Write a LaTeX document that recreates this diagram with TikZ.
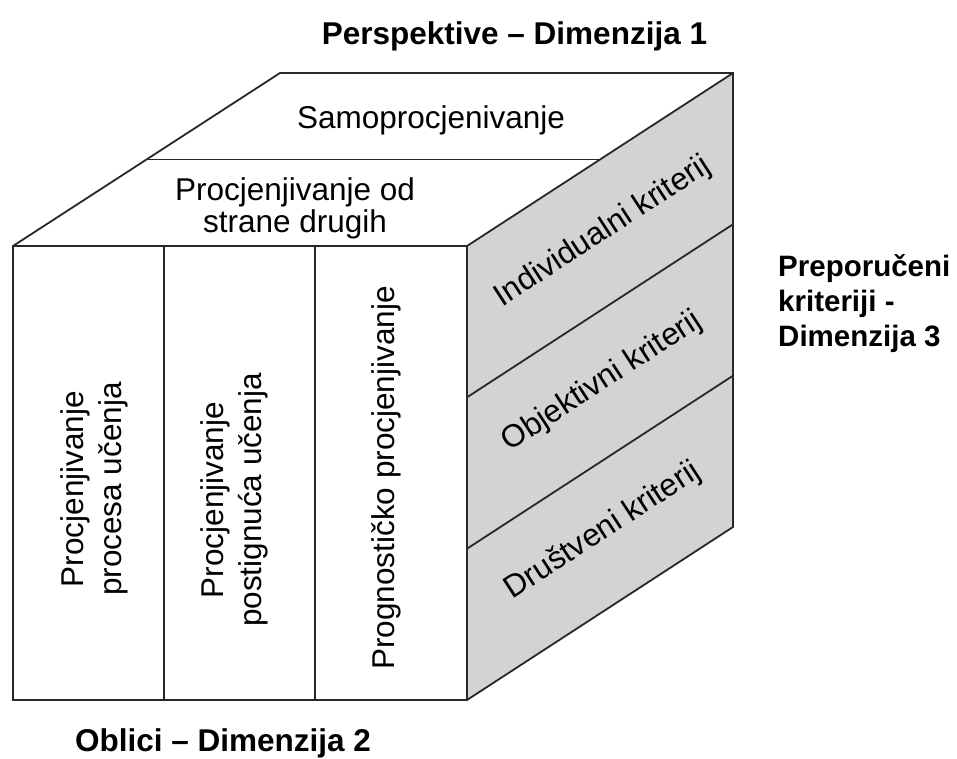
\documentclass[tikz,border=0pt]{standalone}
\usepackage{fontspec}
\setmainfont{Liberation Sans}
\definecolor{facegray}{RGB}{211,211,213}
\definecolor{edgec}{RGB}{40,40,40}
\begin{document}
\begin{tikzpicture}[x=1pt,y=-1pt,
  edge/.style={draw=edgec,line width=1.8pt,line join=miter},
  facetxt/.style={inner sep=0pt,font=\fontsize{31.5}{38}\selectfont,align=center},
  dimlabel/.style={inner sep=0pt,font=\bfseries\fontsize{31.5}{35}\selectfont}]
\useasboundingbox (0,0) rectangle (957,758);
% corners
\coordinate (FTL) at (13,246);
\coordinate (FTR) at (467,246);
\coordinate (FBL) at (13,700);
\coordinate (FBR) at (467,700);
\coordinate (BTL) at (280,73);
\coordinate (BTR) at (733,73);
\coordinate (BBR) at (733,527);
\coordinate (MTL) at (146.5,159.5);
\coordinate (MTR) at (600,159.5);
\coordinate (C1T) at (164,246);
\coordinate (C1B) at (164,700);
\coordinate (C2T) at (315,246);
\coordinate (C2B) at (315,700);
\coordinate (R1F) at (467,397.3);
\coordinate (R1B) at (733,224.3);
\coordinate (R2F) at (467,548.7);
\coordinate (R2B) at (733,375.7);
% faces
\fill[facegray] (FTR) -- (BTR) -- (BBR) -- (FBR) -- cycle;
\draw[edge] (FTL) -- (BTL) -- (BTR) -- (BBR) -- (FBR) -- (FBL) -- cycle;
\draw[edge] (FTL) -- (FTR) -- (BTR);
\draw[edge] (FTR) -- (FBR);
\draw[edge] (MTL) -- (MTR);
\draw[edge] (C1T) -- (C1B);
\draw[edge] (C2T) -- (C2B);
\draw[edge] (R1F) -- (R1B);
\draw[edge] (R2F) -- (R2B);
% top face texts
\node[facetxt,anchor=base] (samo) at (431,128) {Samoprocjenivanje};
\node[facetxt,font=\fontsize{31.5}{32}\selectfont] (drugi) at (295,208) {Procjenjivanje od\\strane drugih};
% front face texts
\node[facetxt,rotate=90] (proc) at (94,489) {Procjenjivanje\\procesa učenja};
\node[facetxt,rotate=90] (post) at (234,500) {Procjenjivanje\\postignuća učenja};
\node[facetxt,rotate=90] (prog) at (386,478) {Prognostičko procjenjivanje};
% right face texts
\node[facetxt,rotate=33.04] (indi) at (603,232) {Individualni kriterij};
\node[facetxt,rotate=33.04] (obje) at (602,382) {Objektivni kriterij};
\node[facetxt,rotate=33.04] (drus) at (603,531) {Društveni kriterij};
% dimension labels
\node[dimlabel,anchor=base] (dim1) at (514.5,44) {Perspektive – Dimenzija 1};
\node[dimlabel,anchor=base] (dim2) at (223,751) {Oblici – Dimenzija 2};
\node[dimlabel,font=\bfseries\fontsize{29.5}{35}\selectfont,anchor=north west,align=left] (dim3) at (778,254) {Preporučeni\\kriteriji -\\Dimenzija 3};
\end{tikzpicture}
\end{document}
